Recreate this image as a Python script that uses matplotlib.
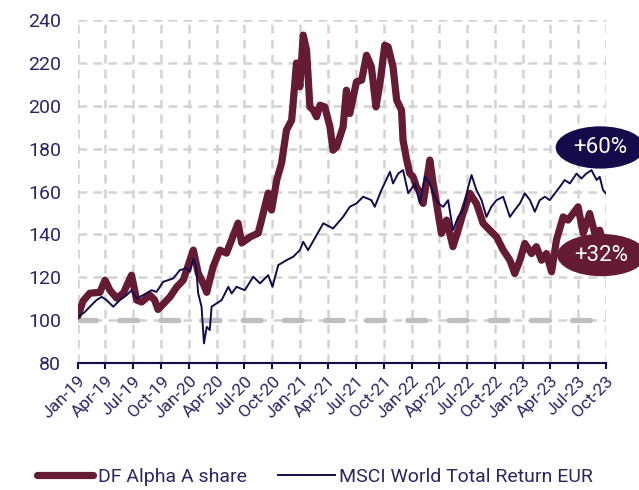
import numpy as np
import pandas as pd
import matplotlib
matplotlib.use('Agg')
import matplotlib.pyplot as plt
import matplotlib.dates as mdates

# DF Alpha A share (rebased to 100)
df_dates = ['2019-01-01', '2019-01-18', '2019-02-09', '2019-03-14', '2019-03-31', '2019-04-16',
            '2019-05-08', '2019-05-30', '2019-06-26', '2019-07-13', '2019-07-29', '2019-08-25',
            '2019-09-10', '2019-09-21', '2019-10-30', '2019-11-21', '2019-12-13', '2020-01-15',
            '2020-01-31', '2020-02-16', '2020-02-28', '2020-03-20', '2020-04-11', '2020-05-03',
            '2020-06-10', '2020-06-22', '2020-07-19', '2020-08-15', '2020-08-26', '2020-09-17',
            '2020-09-28', '2020-10-15', '2020-10-31', '2020-11-16', '2020-12-03', '2020-12-08',
            '2020-12-19', '2020-12-30', '2021-01-10', '2021-01-21', '2021-02-01', '2021-02-12',
            '2021-02-23', '2021-03-06', '2021-03-22', '2021-04-08', '2021-04-18', '2021-04-30',
            '2021-05-21', '2021-06-01', '2021-06-12', '2021-07-04', '2021-07-21', '2021-08-06',
            '2021-08-22', '2021-09-06', '2021-09-19', '2021-10-05', '2021-10-16', '2021-11-01',
            '2021-11-13', '2021-11-29', '2021-12-04', '2021-12-15', '2021-12-26', '2022-01-06',
            '2022-01-17', '2022-01-28', '2022-02-08', '2022-03-02', '2022-03-13', '2022-03-24',
            '2022-04-09', '2022-04-26', '2022-05-17', '2022-06-03', '2022-06-19', '2022-07-11',
            '2022-08-02', '2022-08-24', '2022-09-15', '2022-10-07', '2022-10-29', '2022-11-20',
            '2022-12-06', '2022-12-23', '2023-01-08', '2023-01-30', '2023-02-15', '2023-03-04',
            '2023-03-20', '2023-04-06', '2023-04-22', '2023-05-14', '2023-05-30', '2023-06-16',
            '2023-07-02', '2023-07-19', '2023-08-09', '2023-08-26', '2023-09-11', '2023-10-01']
df_values = [102, 109, 112.6, 113, 118.7, 114,
             110.3, 112.6, 121, 109.4, 108.5, 111.7,
             109.4, 105, 110.8, 115.4, 118.7, 132.7,
             122, 117.3, 113, 124.9, 132.7, 131.3,
             145.3, 136, 138.8, 140.6, 146.7, 159.3,
             151.4, 165.4, 173.3, 188.7, 193.3, 201.3,
             220, 208.9, 233, 226, 199.5, 198,
             194.9, 200.3, 199.5, 190.2, 179.3, 180.9,
             190.2, 207.3, 196.4, 211.2, 212, 223.6,
             218.2, 199.5, 210.4, 228.3, 227.5, 218.2,
             202.7, 198, 184, 175.5, 168.5, 166.9,
             162.2, 160, 154.5, 174.7, 163.8, 154.5,
             140.5, 146.7, 134.3, 142, 149.8, 159.2,
             154.5, 145.2, 142, 138.9, 132.7, 128,
             121.8, 128, 135.8, 131.1, 134.3, 128,
             131.1, 122.6, 137.4, 148.2, 146.7, 149.8,
             152.9, 140.5, 149.8, 140.5, 142, 132]

# MSCI World Total Return EUR (rebased to 100)
msci_dates = ['2019-01-01', '2019-01-24', '2019-02-09', '2019-03-03', '2019-03-20', '2019-04-05',
              '2019-04-27', '2019-05-19', '2019-06-10', '2019-06-26', '2019-07-13', '2019-08-03',
              '2019-08-31', '2019-09-16', '2019-10-08', '2019-11-10', '2019-12-02', '2019-12-24',
              '2020-01-04', '2020-01-15', '2020-01-24', '2020-01-31', '2020-02-11', '2020-02-19',
              '2020-02-28', '2020-03-09', '2020-03-15', '2020-03-31', '2020-04-17', '2020-05-09',
              '2020-05-20', '2020-06-05', '2020-07-02', '2020-07-30', '2020-08-21', '2020-09-17',
              '2020-10-01', '2020-10-20', '2020-11-16', '2020-12-08', '2020-12-30', '2021-01-10',
              '2021-01-26', '2021-02-17', '2021-03-17', '2021-04-18', '2021-05-21', '2021-06-12',
              '2021-07-04', '2021-07-26', '2021-08-22', '2021-09-02', '2021-09-24', '2021-10-22',
              '2021-11-01', '2021-11-18', '2021-12-04', '2021-12-21', '2022-01-12', '2022-01-28',
              '2022-02-14', '2022-03-02', '2022-03-13', '2022-03-29', '2022-04-15', '2022-05-01',
              '2022-05-17', '2022-06-03', '2022-06-19', '2022-07-06', '2022-07-17', '2022-08-02',
              '2022-08-19', '2022-09-04', '2022-09-20', '2022-10-07', '2022-10-29', '2022-11-20',
              '2022-12-06', '2022-12-23', '2023-01-08', '2023-01-25', '2023-02-10', '2023-02-26',
              '2023-03-15', '2023-03-31', '2023-04-17', '2023-05-03', '2023-05-19', '2023-06-05',
              '2023-06-27', '2023-07-13', '2023-07-29', '2023-08-15', '2023-09-01', '2023-09-11',
              '2023-09-22', '2023-10-01']
msci_values = [101.6, 103.9, 106.3, 109.4, 110.9, 109.4,
               106.3, 109.4, 111.7, 114, 110.2, 111.7,
               114, 113.2, 117.9, 119.5, 123.4, 124.2,
               122.6, 128.5, 125, 112.5, 106.3, 89.2,
               96.9, 95.4, 106.3, 107.8, 109.4, 115.6,
               112.5, 115.6, 114, 120.3, 117.2, 121,
               115.6, 125.7, 128, 129.6, 132.7, 136.6,
               132.7, 138.2, 145.2, 142.8, 148.2, 152.9,
               154.5, 157.6, 156, 152.9, 160.7, 169.2,
               163.8, 168.4, 170, 159.2, 163.8, 154.5,
               166.9, 163.8, 159.2, 154.5, 152.9, 156,
               142, 148.2, 151.4, 162.2, 167.7, 160.7,
               156, 148.2, 152.9, 156, 157.6, 148.2,
               151.4, 154.5, 159.2, 156, 150.6, 156,
               157.6, 156, 159.2, 162.2, 165.4, 163.8,
               168.4, 166.1, 168.4, 170, 165.4, 166.9,
               160.7, 159.2]

series_labels = ['DF Alpha A share', 'MSCI World Total Return EUR']
badge_texts = ['+32%', '+60%']

maroon = '#641b33'
navy = '#150b4b'
text_col = '#2c2563'
grid_col = '#d3d3d3'

plt.rcParams['font.family'] = ['Roboto', 'DejaVu Sans']

df_x = pd.to_datetime(df_dates)
msci_x = pd.to_datetime(msci_dates)

fig = plt.figure(figsize=(6.39, 4.9), dpi=100)
ax = fig.add_axes([0.122, 0.259, 0.826, 0.700])

start = pd.Timestamp('2019-01-01')
end = pd.Timestamp('2023-10-01')
quarters = pd.date_range(start, end, freq='QS')

ax.set_xlim(start, end)
ax.set_ylim(80, 240)
ax.set_yticks(range(80, 241, 20))
ax.set_xticks(quarters)
ax.xaxis.set_major_formatter(mdates.DateFormatter('%b-%y'))

# dashed grid
ax.grid(True, color=grid_col, lw=1.8, ls=(0, (3.5, 2.5)), zorder=0)
ax.set_axisbelow(True)

# 100 baseline
ax.plot([start, end], [100, 100], color='#bfbfbf', lw=3.8, ls=(0, (3.4, 4.4)),
        dash_capstyle='round', zorder=2)

ax.plot(df_x, df_values, color=maroon, lw=5.2, solid_joinstyle='round',
        solid_capstyle='round', label=series_labels[0], zorder=3)
ax.plot(msci_x, msci_values, color=navy, lw=1.4, label=series_labels[1], zorder=4)

for s in ['top', 'right', 'left']:
    ax.spines[s].set_visible(False)
ax.spines['bottom'].set_color(navy)
ax.spines['bottom'].set_linewidth(1.5)
ax.spines['bottom'].set_zorder(5)

ax.tick_params(axis='y', length=0, pad=12, labelsize=14, labelcolor=text_col)
ax.tick_params(axis='x', direction='out', length=4.5, width=1.5, color=navy,
               labelsize=12.5, labelcolor=text_col, pad=3)
for lab in ax.get_xticklabels():
    lab.set_rotation(45)
    lab.set_ha('right')
    lab.set_va('top')
    lab.set_rotation_mode('anchor')

# end-value badges
ax.annotate(badge_texts[1], xy=(msci_x[-1], msci_values[-1]), xytext=(-4, 33),
            textcoords='offset points', ha='center', va='center', fontsize=16,
            color='white', annotation_clip=False, zorder=6,
            bbox=dict(boxstyle='ellipse,pad=0.2', fc=navy, ec='none'))
ax.annotate(badge_texts[0], xy=(df_x[-1], df_values[-1]), xytext=(-3, -2.5),
            textcoords='offset points', ha='center', va='center', fontsize=16,
            color='white', annotation_clip=False, zorder=6,
            bbox=dict(boxstyle='ellipse,pad=0.2', fc=maroon, ec='none'))

fig.legend(loc='center', bbox_to_anchor=(0.493, 0.027), ncol=2, frameon=False,
           fontsize=14, handlelength=2.9, handletextpad=0.25, columnspacing=1.6,
           labelcolor=text_col)

fig.savefig('out.png', dpi=100)
